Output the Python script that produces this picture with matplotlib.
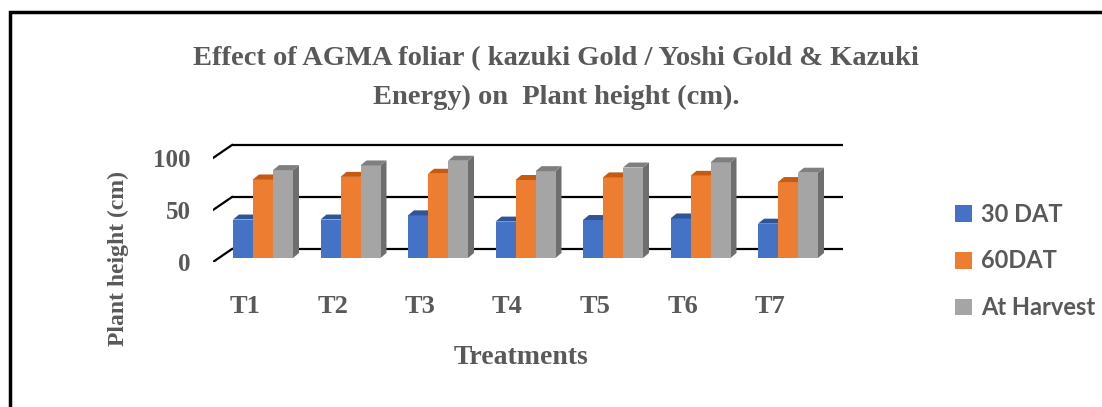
import numpy as np
import matplotlib.pyplot as plt
from matplotlib.patches import Polygon, Rectangle

# datos
treatments = ['T1', 'T2', 'T3', 'T4', 'T5', 'T6', 'T7']
dat30 = [37, 37, 41, 35, 36.5, 38, 33]
dat60 = [75.5, 78, 81, 75, 77.5, 79, 73]
harvest = [84.5, 89, 93.5, 83.5, 87, 92, 82]
series_names = ['30 DAT', '60DAT', 'At Harvest']
yticks = [0, 50, 100]

front_cols = ['#4472C4', '#ED7D31', '#A5A5A5']
top_cols = ['#2F5597', '#C55A11', '#7F7F7F']
side_cols = ['#2E4F8F', '#B4561A', '#6E6E6E']
txt_col = '#595959'
serif = ['Liberation Serif', 'DejaVu Serif']

W, H = 1102, 407
fig = plt.figure(figsize=(W / 100, H / 100), dpi=100)

# marco negro (cortado a la derecha y abajo, como en la imagen)
fig.patches.append(Rectangle((10 / W, -0.1), 1.2, (H - 12) / H + 0.1,
                             transform=fig.transFigure, fill=False,
                             edgecolor='black', linewidth=2.5))

# ejes en "pixeles" de la vista 3D de Excel
px_per_cat = 87.5
px_per_unit = 1.04
left_px, right_px = 213, 843
top_px, zero_px = 140, 262
ax = fig.add_axes([left_px / W, 1 - zero_px / H,
                   (right_px - left_px) / W, (zero_px - top_px) / H])
x0 = 263  # centro del primer grupo de barras
ax.set_xlim((left_px - x0) / px_per_cat, (right_px - x0) / px_per_cat)
ax.set_ylim(0, (zero_px - top_px) / px_per_unit)
for s in ax.spines.values():
    s.set_visible(False)

# profundidad
back_dx = 19 / px_per_cat
back_dy = 13 / px_per_unit
base = 4 / px_per_unit
dep_x = 6 / px_per_cat
dep_y = 5 / px_per_unit

xmin, xmax = ax.get_xlim()
for v in yticks:
    ax.plot([xmin + back_dx, xmax], [v + back_dy, v + back_dy], color='black', lw=1.6, zorder=1,
            solid_capstyle='butt')
    ax.plot([xmin, xmin + back_dx], [v, v + back_dy], color='black', lw=1.6, zorder=1)

x = np.arange(len(treatments))
bw = 20 / px_per_cat
data = [dat30, dat60, harvest]
for k, vals in enumerate(data):
    xs = x + (k - 1) * bw
    bars = ax.bar(xs, vals, width=bw, bottom=base, color=front_cols[k], zorder=3,
                  edgecolor='none')
    for b in bars:
        l, r = b.get_x(), b.get_x() + b.get_width()
        t = b.get_y() + b.get_height()
        btm = b.get_y()
        ax.add_patch(Polygon([(l, t), (r, t), (r + dep_x, t + dep_y), (l + dep_x, t + dep_y)],
                             closed=True, facecolor=top_cols[k], edgecolor='none', zorder=3))
        ax.add_patch(Polygon([(r, btm), (r + dep_x, btm + dep_y), (r + dep_x, t + dep_y), (r, t)],
                             closed=True, facecolor=side_cols[k], edgecolor='none', zorder=2.9))

# etiquetas de ejes
ax.set_yticks(yticks)
ax.set_yticklabels([str(v) for v in yticks], fontsize=18, fontweight='bold', color=txt_col,
                   family=serif)
ax.tick_params(axis='y', length=0, pad=16)
ax.set_xticks(x - 18 / px_per_cat)
ax.set_xticklabels(treatments, fontsize=19, fontweight='bold', color=txt_col, family=serif)
ax.tick_params(axis='x', length=0, pad=24)

fig.text(521 / W, 1 - 358 / H, 'Treatments', ha='center', va='center', fontsize=20,
         fontweight='bold', color=txt_col, family=serif)
fig.text(118 / W, 1 - 259 / H, 'Plant height (cm)', ha='center', va='center', rotation=90,
         fontsize=17, fontweight='bold', color=txt_col, family=serif)
fig.text(556 / W, 1 - 78 / H,
         'Effect of AGMA foliar ( kazuki Gold / Yoshi Gold & Kazuki\nEnergy) on  Plant height (cm).',
         ha='center', va='center', fontsize=20.5, fontweight='bold', color=txt_col, family=serif,
         linespacing=1.72)

# leyenda
handles = [Rectangle((0, 0), 1, 1, facecolor=c, edgecolor='none') for c in front_cols]
leg = fig.legend(handles, series_names, loc='center left', bbox_to_anchor=(934 / W, 1 - 261 / H),
                 frameon=False, handlelength=0.7, handleheight=0.7, handletextpad=0.4,
                 labelspacing=1.0, prop={'family': ['Lato', 'DejaVu Sans'], 'weight': 'bold',
                                         'size': 17})
for t in leg.get_texts():
    t.set_color(txt_col)

fig.savefig('out.png', dpi=100)
